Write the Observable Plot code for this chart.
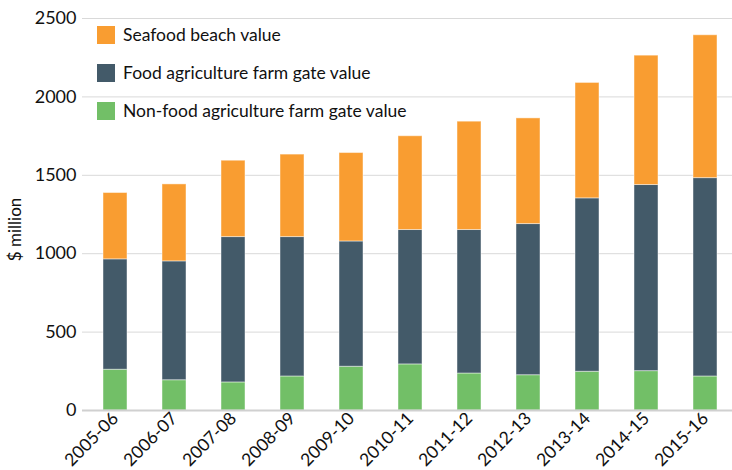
<!DOCTYPE html>
<html>
<head>
<meta charset="utf-8">
<script src="https://cdn.jsdelivr.net/npm/d3@7"></script>
<script src="https://cdn.jsdelivr.net/npm/@observablehq/plot@0.6"></script>
<style>
  body { margin: 0; background: #fff; font-family: Lato, "Open Sans", sans-serif; }
  #wrap { position: relative; width: 732px; height: 470px; }
  #legend { position: absolute; left: 97px; top: 25px; font-size: 17.5px; color: #111; }
  .item { display: flex; align-items: center; height: 19px; margin-bottom: 19px; }
  .sw { width: 18px; height: 18px; margin-right: 8px; flex: none; }
</style>
</head>
<body>
<div id="wrap"><div id="legend"></div></div>
<script>
const years = ["2005-06","2006-07","2007-08","2008-09","2009-10","2010-11","2011-12","2012-13","2013-14","2014-15","2015-16"];
const seriesNames = ["Non-food agriculture farm gate value","Food agriculture farm gate value","Seafood beach value"];
const seriesColors = ["#72BF67","#435A69","#F99D31"];
const nonFood = [260, 193, 179, 217, 279, 294, 236, 225, 247, 251, 217];
const food    = [704, 758, 927, 889, 799, 857, 915, 964, 1106, 1187, 1265];
const seafood = [423, 491, 487, 526, 564, 598, 691, 674, 736, 825, 911];
const yTicks = [0, 500, 1000, 1500, 2000, 2500];

const values = [nonFood, food, seafood];
const data = [];
values.forEach((arr, s) => arr.forEach((v, i) => data.push({year: years[i], series: seriesNames[s], value: v})));

const chart = Plot.plot({
  width: 732,
  height: 470,
  marginTop: 18,
  marginBottom: 60,
  marginLeft: 82,
  marginRight: 0,
  style: {fontFamily: "Lato, 'Open Sans', sans-serif", fontSize: "17px", color: "#111"},
  x: {domain: years, paddingInner: 0.6, paddingOuter: 0.3, align: 0.5, insetRight: -5},
  y: {domain: [0, 2500], ticks: yTicks},
  color: {domain: seriesNames, range: seriesColors},
  marks: [
    Plot.gridY(yTicks, {stroke: "#d9d9d9", strokeOpacity: 1}),
    Plot.barY(data, {x: "year", y: "value", fill: "series", order: seriesNames, stroke: "#fff", strokeOpacity: 0.45, strokeWidth: 1, inset: 0}),
    Plot.ruleY([0], {stroke: "#d0d0d0", strokeWidth: 2}),
    Plot.axisY(yTicks, {tickSize: 0, tickPadding: 6, tickFormat: d => String(d), label: null, fontSize: 18}),
    Plot.text(["$ million"], {frameAnchor: "left", textAnchor: "middle", lineAnchor: "middle", rotate: -90, dx: -67, dy: 15, fontSize: 17, fill: "#111"}),
    Plot.axisX({tickSize: 0, tickRotate: -45, tickPadding: 5, label: null, fontSize: 17.5})
  ]
});
document.getElementById("wrap").prepend(chart);

const legend = document.getElementById("legend");
[2, 1, 0].forEach(s => {
  const d = document.createElement("div");
  d.className = "item";
  d.innerHTML = `<span class="sw" style="background:${seriesColors[s]}"></span><span>${seriesNames[s]}</span>`;
  legend.appendChild(d);
});
</script>
</body>
</html>
